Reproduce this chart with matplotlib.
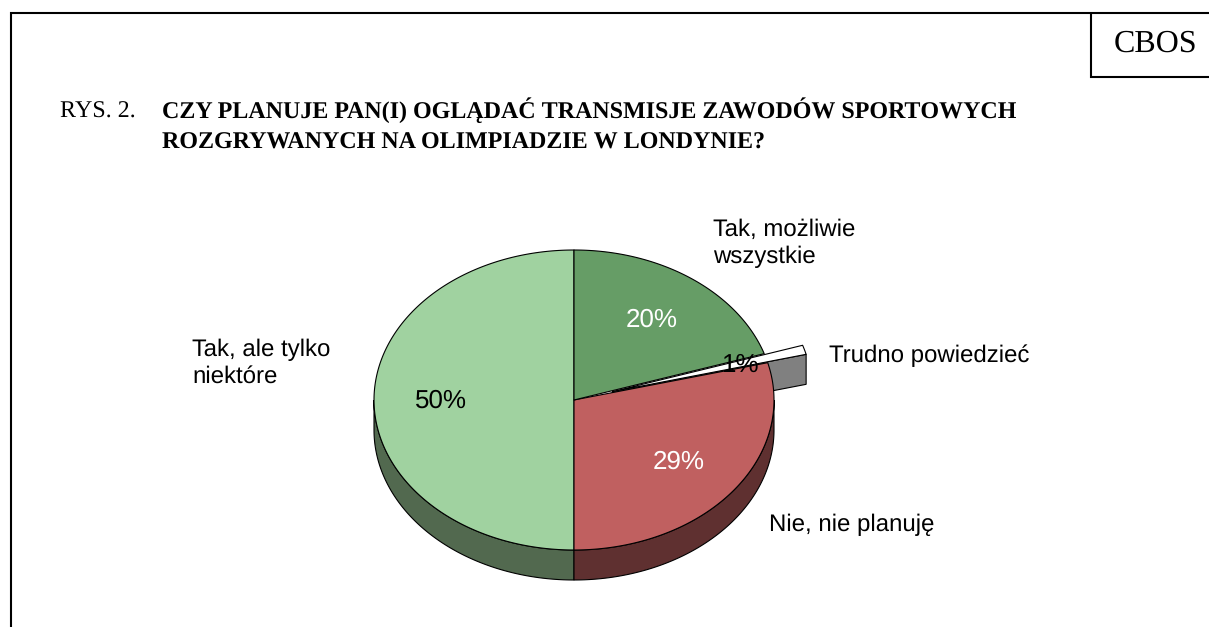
import numpy as np
import matplotlib
matplotlib.use("Agg")
import matplotlib.pyplot as plt
from matplotlib.patches import Polygon

plt.rcParams["text.hinting"] = "none"
plt.rcParams["text.hinting_factor"] = 1

categories = ["Tak, możliwie\nwszystkie", "Trudno powiedzieć", "Nie, nie planuję", "Tak, ale tylko\nniektóre"]
values = [20, 1, 29, 50]
pct_labels = ["20%", "1%", "29%", "50%"]
explode = [0, 0.2, 0, 0]
top_colors = ["#669D66", "#FFFFFF", "#C06060", "#A0D2A0"]
side_colors = ["#4F6B4F", "#808080", "#5F3030", "#52694F"]
pct_colors = ["white", "black", "white", "black"]
pct_pos = [(652, 320), (740, 365), (679, 462), (441, 401)]
label_pos = [(713, 243), (829, 356), (769, 525), (192, 363)]

CX, CY, RX, RY, DEPTH = 574, 400, 200, 150, 30
SERIF = "Liberation Serif"
SANS = "Liberation Sans"

fig = plt.figure(figsize=(12.09, 6.27), dpi=100)
ax = fig.add_axes([0, 0, 1, 1])
ax.set_xlim(0, 1209)
ax.set_ylim(627, 0)
ax.axis("off")

# frame
ax.plot([11, 11, 1209], [627, 12.5, 12.5], color="black", lw=1.5, solid_capstyle="butt", solid_joinstyle="miter")
ax.plot([1090.5, 1090.5, 1209], [12.5, 77, 77], color="black", lw=1.5, solid_capstyle="butt", solid_joinstyle="miter")
ax.text(1155, 44, "CBOS", family=SERIF, fontsize=23, ha="center", va="center")
ax.text(60, 118, "RYS. 2.", family=SERIF, fontsize=17.4, ha="left", va="baseline")
ax.text(162, 118, "CZY PLANUJE PAN(I) OGLĄDAĆ TRANSMISJE ZAWODÓW SPORTOWYCH",
        family=SERIF, fontsize=17.4, fontweight="bold", ha="left", va="baseline")
ax.text(162, 149, "ROZGRYWANYCH NA OLIMPIADZIE W LONDYNIE?",
        family=SERIF, fontsize=17.4, fontweight="bold", ha="left", va="baseline")


def ell(t, dx=0.0, dy=0.0, depth=0.0):
    return np.c_[CX + dx + RX * np.sin(t), CY + dy + depth - RY * np.cos(t)]


edges = np.deg2rad(np.r_[0, np.cumsum(values)] / sum(values) * 360)
slices = []
for i in range(len(values)):
    t0, t1 = edges[i], edges[i + 1]
    mid = (t0 + t1) / 2
    dx = explode[i] * RX * np.sin(mid)
    dy = -explode[i] * RY * np.cos(mid)
    slices.append((t0, t1, dx, dy))

LW = 0.8
# side walls of non-exploded slices (visible lower half only)
for i in (3, 2):
    t0, t1, dx, dy = slices[i]
    a, b = max(t0, np.pi / 2), min(t1, 3 * np.pi / 2)
    t = np.linspace(a, b, 120)
    pts = np.vstack([ell(t, dx, dy), ell(t[::-1], dx, dy, DEPTH)])
    ax.add_patch(Polygon(pts, closed=True, fc=side_colors[i], ec="black", lw=LW, zorder=2))

# side wall of exploded slice
t0, t1, dx, dy = slices[1]
apex = np.array([[CX + dx, CY + dy]])
rim = ell(np.array([t1]), dx, dy)
pts = np.vstack([apex, rim, rim + [0, DEPTH], apex + [0, DEPTH]])
ax.add_patch(Polygon(pts, closed=True, fc=side_colors[1], ec="black", lw=LW, zorder=2.5))

# tops
for i, z in zip((3, 2, 0, 1), (3, 3.1, 3.2, 3.3)):
    t0, t1, dx, dy = slices[i]
    t = np.linspace(t0, t1, 200)
    pts = np.vstack([[CX + dx, CY + dy], ell(t, dx, dy)])
    ax.add_patch(Polygon(pts, closed=True, fc=top_colors[i], ec="black", lw=LW, zorder=z, joinstyle="round"))

for s, c, (x, y) in zip(pct_labels, pct_colors, pct_pos):
    ax.text(x, y, s, family=SANS, fontsize=18.7, color=c, ha="center", va="center", zorder=5)
for s, (x, y) in zip(categories, label_pos):
    ax.text(x, y, s, family=SANS, fontsize=17, ha="left", va="center", linespacing=1.26, zorder=5)

fig.savefig("out.png", dpi=100)
